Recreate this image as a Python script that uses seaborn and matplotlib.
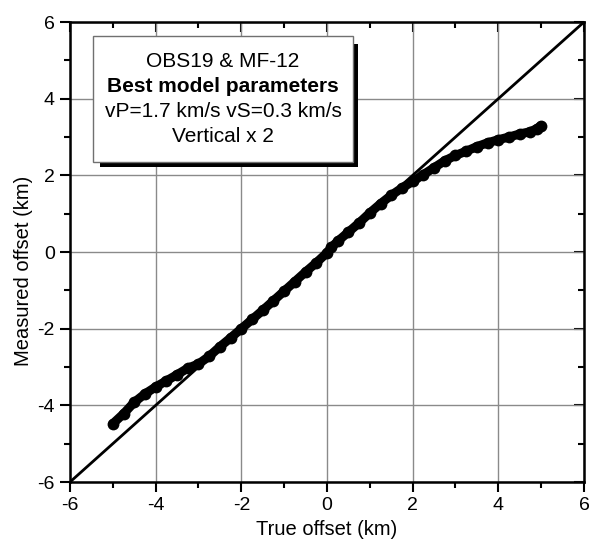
import numpy as np
import pandas as pd
import matplotlib
matplotlib.use("Agg")
import matplotlib.pyplot as plt
from matplotlib.patches import Rectangle
from matplotlib.ticker import MultipleLocator
import seaborn as sns

# values
true_offset = [-5.0, -4.75, -4.5, -4.25, -4.0, -3.75, -3.5, -3.25, -3.0, -2.75,
               -2.5, -2.25, -2.0, -1.75, -1.5, -1.25, -1.0, -0.75, -0.5, -0.25,
               0.0, 0.1, 0.25, 0.5, 0.75, 1.0, 1.25, 1.5, 1.75, 2.0,
               2.25, 2.5, 2.75, 3.0, 3.25, 3.5, 3.75, 4.0, 4.25, 4.5,
               4.75, 4.9, 5.0]
measured_offset = [-4.48, -4.22, -3.92, -3.70, -3.52, -3.36, -3.20, -3.03, -2.92, -2.72,
                   -2.47, -2.24, -2.0, -1.76, -1.52, -1.27, -1.02, -0.77, -0.52, -0.28,
                   -0.02, 0.12, 0.28, 0.52, 0.76, 1.02, 1.26, 1.48, 1.67, 1.84,
                   2.02, 2.20, 2.38, 2.52, 2.63, 2.75, 2.85, 2.93, 3.00, 3.08,
                   3.14, 3.22, 3.30]
diag_x = [-6, 6]
diag_y = [-6, 6]
box_lines = ["OBS19 & MF-12", "Best model parameters",
             "vP=1.7 km/s vS=0.3 km/s", "Vertical x 2"]

sns.set_style("ticks")
plt.rcParams['font.family'] = ['Liberation Sans', 'DejaVu Sans']
plt.rcParams['axes.unicode_minus'] = False
plt.rcParams['text.color'] = 'black'
plt.rcParams['axes.labelcolor'] = 'black'
plt.rcParams['xtick.color'] = 'black'
plt.rcParams['ytick.color'] = 'black'

fig = plt.figure(figsize=(5.89, 5.41), dpi=100)
ax = fig.add_axes([0.1188, 0.109, 0.8727, 0.8503])

df = pd.DataFrame({'x': true_offset, 'y': measured_offset})
sns.lineplot(x=diag_x, y=diag_y, ax=ax, color='black', linewidth=2.0, zorder=3)
sns.lineplot(data=df, x='x', y='y', ax=ax, color='black', linewidth=6.5,
             marker='o', markersize=8.5, markeredgewidth=0, zorder=4,
             solid_capstyle='round', solid_joinstyle='round')

ax.set_xlim(-6, 6)
ax.set_ylim(-6, 6)
ax.xaxis.set_major_locator(MultipleLocator(2))
ax.yaxis.set_major_locator(MultipleLocator(2))
ax.xaxis.set_minor_locator(MultipleLocator(1))
ax.yaxis.set_minor_locator(MultipleLocator(1))
ax.grid(True, which='major', color='#8a8a8a', linewidth=1.0, zorder=0)
ax.set_axisbelow(True)

for s in ax.spines.values():
    s.set_visible(True)
    s.set_linewidth(1.8)
    s.set_color('black')

ax.tick_params(which='major', direction='out', length=7, width=1.5,
               labelsize=14, pad=4)
ax.tick_params(which='minor', direction='out', length=4.5, width=1.5)
# inward ticks on top and right
ax2 = ax.secondary_xaxis('top')
ax2.xaxis.set_major_locator(MultipleLocator(2))
ax2.xaxis.set_minor_locator(MultipleLocator(1))
ax2.tick_params(which='major', direction='in', length=7, width=1.5)
ax2.tick_params(which='minor', direction='in', length=4, width=1.5)
ax2.set_xticklabels([])
ay2 = ax.secondary_yaxis('right')
ay2.yaxis.set_major_locator(MultipleLocator(2))
ay2.yaxis.set_minor_locator(MultipleLocator(1))
ay2.tick_params(which='major', direction='in', length=7, width=1.5)
ay2.tick_params(which='minor', direction='in', length=4, width=1.5)
ay2.set_yticklabels([])

ax.set_xlabel('True offset (km)', fontsize=14.5)
ax.set_ylabel('Measured offset (km)', fontsize=14.5)
ax.xaxis.set_label_coords(0.5, -0.082)
ax.yaxis.set_label_coords(-0.072, 0.459)

# annotation box with drop shadow
ax.add_patch(Rectangle((0.0584, 0.6848), 0.502, 0.2674, transform=ax.transAxes,
                       facecolor='black', edgecolor='none', zorder=5))
ax.add_patch(Rectangle((0.0447, 0.6957), 0.506, 0.2739, transform=ax.transAxes,
                       facecolor='white', edgecolor='#707070', linewidth=1.0, zorder=6))
ys = [0.9022, 0.8478, 0.7935, 0.7402]
for line, yy in zip(box_lines, ys):
    ax.text(0.2977, yy, line, transform=ax.transAxes, ha='center', va='baseline',
            fontsize=15, zorder=7,
            fontweight='bold' if line.startswith('Best') else 'normal')

fig.savefig('out.png', dpi=100)
